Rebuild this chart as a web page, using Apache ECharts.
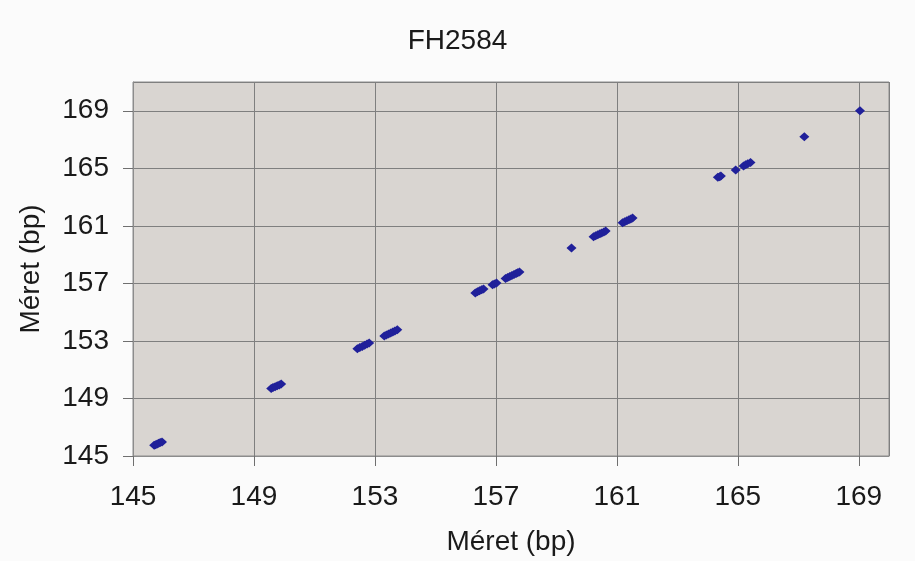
<!DOCTYPE html>
<html>
<head>
<meta charset="utf-8">
<script src="https://cdn.jsdelivr.net/npm/echarts@6/dist/echarts.min.js"></script>
<style>
  html, body { margin: 0; padding: 0; background: #fbfbfb; }
  #main { width: 915px; height: 561px; }
</style>
</head>
<body>
<div id="main"></div>
<script>
// méret párok (x: egyik futás, y: másik futás)
const xValues = [
  145.70, 145.75, 145.80, 145.85, 145.90, 145.96,
  149.57, 149.63, 149.70, 149.77, 149.84, 149.90,
  152.42, 152.50, 152.58, 152.66, 152.74, 152.81,
  153.31, 153.38, 153.45, 153.52, 153.59, 153.66, 153.74,
  156.32, 156.39, 156.46, 156.53, 156.59,
  156.89, 156.95, 157.02,
  157.32, 157.39, 157.46, 157.53, 157.60, 157.67, 157.72, 157.78,
  159.50,
  160.23, 160.30, 160.37, 160.44, 160.50, 160.57, 160.63,
  161.19, 161.26, 161.33, 161.40, 161.46, 161.52,
  164.34, 164.40, 164.44,
  164.93,
  165.19, 165.26, 165.33, 165.42,
  167.20,
  169.04
];
const yValues = [
  145.74, 145.79, 145.84, 145.88, 145.93, 145.98,
  149.70, 149.76, 149.82, 149.88, 149.94, 150.00,
  152.46, 152.54, 152.62, 152.70, 152.78, 152.86,
  153.34, 153.41, 153.48, 153.55, 153.62, 153.69, 153.77,
  156.34, 156.41, 156.48, 156.55, 156.61,
  156.90, 156.96, 157.03,
  157.34, 157.41, 157.48, 157.55, 157.62, 157.69, 157.74, 157.80,
  159.46,
  160.24, 160.31, 160.38, 160.45, 160.51, 160.58, 160.64,
  161.21, 161.28, 161.35, 161.42, 161.48, 161.54,
  164.38, 164.42, 164.46,
  164.88,
  165.16, 165.24, 165.31, 165.40,
  167.20,
  169.00
];
const titleText = 'FH2584';
const axisName = 'Méret (bp)';

const chart = echarts.init(document.getElementById('main'));

const points = xValues.map((x, i) => [x, yValues[i]]);

const gridColor = '#7f7f7f';
const font = 'Liberation Sans, Arial, sans-serif';

function axisBase(min, max) {
  return {
    type: 'value',
    min: min,
    max: max,
    interval: 4,
    name: axisName,
    nameLocation: 'middle',
    nameTextStyle: { fontSize: 28, color: '#1a1a1a', fontFamily: font },
    axisLine: { show: true, lineStyle: { color: '#8c8c8c', width: 1 } },
    axisTick: { show: true, inside: false, length: 10, lineStyle: { color: '#6f6f6f' } },
    axisLabel: {
      fontSize: 28, color: '#1a1a1a', fontFamily: font,
      showMaxLabel: false
    },
    splitLine: { show: true, lineStyle: { color: gridColor, width: 1 } }
  };
}

const xAxis = axisBase(145, 170);
xAxis.nameGap = 72;
xAxis.axisLabel.margin = 27;

const yAxis = axisBase(145, 171);
yAxis.nameGap = 88;
yAxis.axisLabel.margin = 24;

chart.setOption({
  backgroundColor: '#fbfbfb',
  animation: false,
  title: {
    text: titleText,
    left: 'center',
    top: 22,
    textStyle: { fontSize: 28, fontWeight: 'normal', color: '#1a1a1a', fontFamily: font }
  },
  grid: {
    left: 133,
    top: 82,
    right: 26,
    bottom: 104,
    show: true,
    backgroundColor: '#d9d5d1',
    borderColor: '#8c8c8c',
    borderWidth: 1
  },
  xAxis: xAxis,
  yAxis: yAxis,
  series: [
    {
      type: 'scatter',
      data: points,
      symbol: 'diamond',
      symbolSize: [10, 9],
      itemStyle: { color: '#20209a', opacity: 1 }
    }
  ]
});
</script>
</body>
</html>
